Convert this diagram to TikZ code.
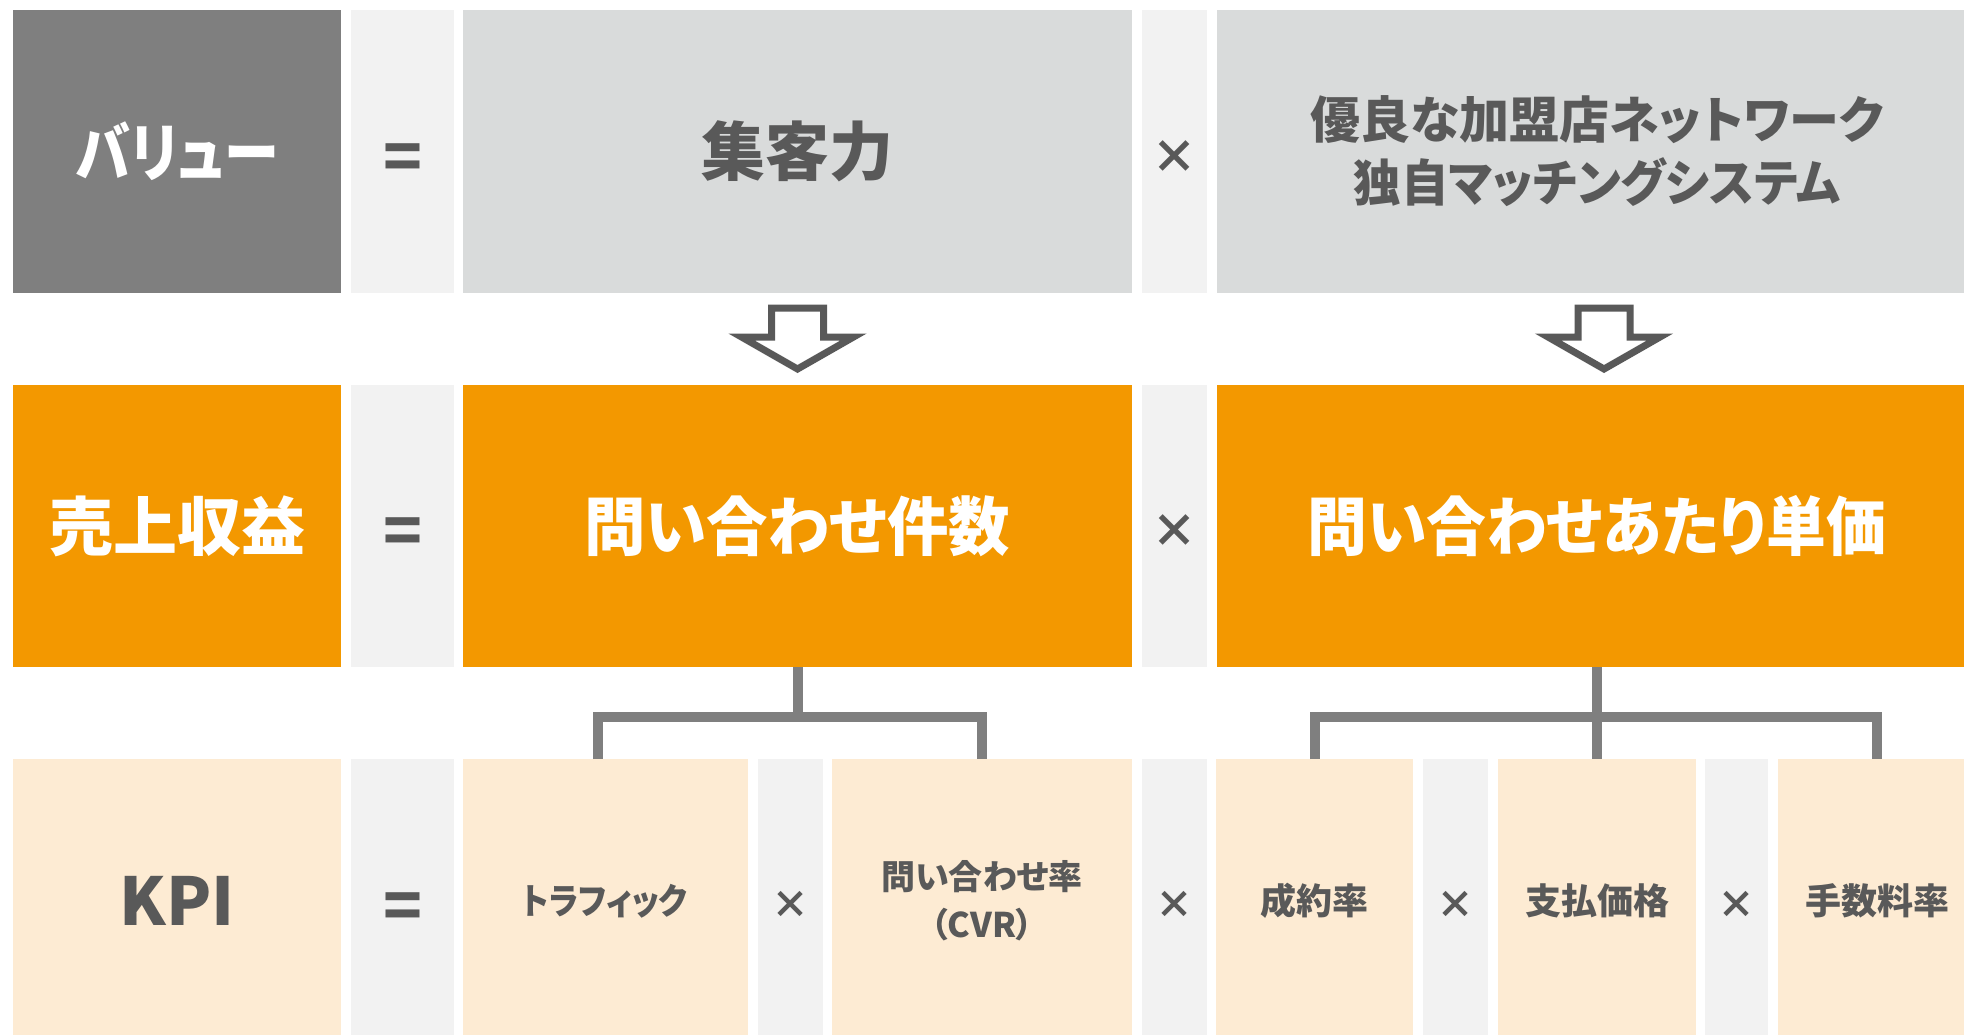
\documentclass[tikz,border=0pt]{standalone}
\usepackage{graphicx}
\usepackage{fontspec}
\setmainfont{Noto Sans CJK JP}[RawFeature=+palt]
\usetikzlibrary{calc}
\definecolor{valgray}{HTML}{7F7F7F}
\definecolor{lgray}{HTML}{D9DBDB}
\definecolor{opgray}{HTML}{F2F2F2}
\definecolor{orng}{HTML}{F39800}
\definecolor{pale}{HTML}{FDEBD3}
\definecolor{txt}{HTML}{595959}
\definecolor{conngray}{HTML}{7F7F7F}
\newcommand\fsz[1]{\fontsize{#1}{#1}\selectfont\bfseries}
\newcommand\narrow[2]{\scalebox{#1}[1]{#2}}
\begin{document}
\begin{tikzpicture}[x=1pt,y=-1pt,
  box/.style={inner sep=0pt, outer sep=0pt, anchor=center, text=txt},
  bigtxt/.style={font=\fsz{64}},
  smalltxt/.style={font=\fsz{36}},
  eqtxt/.style={inner sep=0pt, text=txt, font=\fsz{64}},
  xtxt/.style={inner sep=0pt, text=txt, font=\fsz{46}},
  xsmall/.style={inner sep=0pt, text=txt, font=\fsz{38}},
  hollow/.style={draw=txt, fill=white, line width=7pt, line join=miter},
  conn/.style={draw=conngray, line width=10pt, line join=miter}]
\useasboundingbox (0,0) rectangle (1964,1035);
\clip (0,0) rectangle (1964,1035);
\fill[white] (0,0) rectangle (1964,1035);
% row 1
\node[box, fill=valgray, minimum width=328pt, minimum height=283pt, text=white, bigtxt] (val) at (177,151.5) {\narrow{0.86}{バリュー}};
\node[box, fill=opgray, minimum width=103pt, minimum height=283pt] (eq1) at (402.5,151.5) {};
\node[box, fill=lgray, minimum width=669pt, minimum height=283pt, bigtxt] (attract) at (797.5,151.5) {集客力};
\node[box, fill=opgray, minimum width=65pt, minimum height=283pt] (x1) at (1174.5,151.5) {};
\node[box, fill=lgray, minimum width=760pt, minimum height=283pt, align=center, font=\fontsize{50}{63}\selectfont\bfseries] (network) at (1597,151.5) {優良な加盟店ネットワーク\\\narrow{0.95}{独自マッチングシステム}};
% row 2
\node[box, fill=orng, minimum width=328pt, minimum height=282pt, text=white, bigtxt] (rev) at (177,526) {売上収益};
\node[box, fill=opgray, minimum width=103pt, minimum height=282pt] (eq2) at (402.5,526) {};
\node[box, fill=orng, minimum width=669pt, minimum height=282pt, text=white, bigtxt] (inq) at (797.5,526) {\narrow{0.96}{問い合わせ件数}};
\node[box, fill=opgray, minimum width=65pt, minimum height=282pt] (x2) at (1174.5,526) {};
\node[box, fill=orng, minimum width=760pt, minimum height=282pt, text=white, bigtxt] (unit) at (1597,526) {\narrow{0.935}{問い合わせあたり単価}};
% row 3
\node[box, fill=pale, minimum width=328pt, minimum height=284pt, font=\fsz{66}] (kpi) at (177,901) {KPI};
\node[box, fill=opgray, minimum width=103pt, minimum height=284pt] (eq3) at (402.5,901) {};
\node[box, fill=pale, minimum width=285pt, minimum height=284pt, smalltxt] (traffic) at (605,901) {\narrow{0.89}{トラフィック}};
\node[box, fill=opgray, minimum width=65pt, minimum height=284pt] (x3) at (790,901) {};
\node[box, fill=pale, minimum width=300pt, minimum height=284pt, align=center, font=\fontsize{34}{48}\selectfont\bfseries] (cvr) at (982,901) {問い合わせ率\\（CVR）};
\node[box, fill=opgray, minimum width=65pt, minimum height=284pt] (x4) at (1174.5,901) {};
\node[box, fill=pale, minimum width=197pt, minimum height=284pt, smalltxt] (seiyaku) at (1314.5,901) {成約率};
\node[box, fill=opgray, minimum width=64.5pt, minimum height=284pt] (x5) at (1455.5,901) {};
\node[box, fill=pale, minimum width=197.5pt, minimum height=284pt, smalltxt] (shiharai) at (1597,901) {支払価格};
\node[box, fill=opgray, minimum width=63pt, minimum height=284pt] (x6) at (1736.5,901) {};
\node[box, fill=pale, minimum width=198pt, minimum height=284pt, smalltxt] (tesuryo) at (1877,901) {手数料率};
% operator signs
\node[eqtxt] (eq1t) at ($(eq1.center)+(0,11)$) {=};
\node[eqtxt] (eq2t) at ($(eq2.center)+(0,10)$) {=};
\node[eqtxt] (eq3t) at ($(eq3.center)+(0,10)$) {=};
\node[xtxt] (x1t) at ($(x1.center)+(0,6)$) {×};
\node[xtxt] (x2t) at ($(x2.center)+(0,5)$) {×};
\node[xsmall] (x3t) at ($(x3.center)+(0,4)$) {×};
\node[xsmall] (x4t) at ($(x4.center)+(0,4)$) {×};
\node[xsmall] (x5t) at ($(x5.center)+(0,4)$) {×};
\node[xsmall] (x6t) at ($(x6.center)+(0,4)$) {×};
% block arrows
\coordinate (a1) at ($(attract.south)!0.5!(inq.north)$);
\coordinate (a2) at ($(network.south)!0.5!(unit.north)+(7,0)$);
\foreach \c in {a1,a2}{
  \begin{scope}[shift={(\c)}]
    \draw[hollow] (-26,-31) -- (26,-31) -- (26,-2) -- (56,-2) -- (0,30) -- (-56,-2) -- (-26,-2) -- cycle;
  \end{scope}
}
% connectors
\draw[conn] (inq.south) -- ++(0,49.5) coordinate (j1);
\draw[conn] ([xshift=-7pt]traffic.north) |- (j1) -| (cvr.north);
\draw[conn] (unit.south) -- ++(0,49.5) coordinate (j2);
\draw[conn] (seiyaku.north) |- (j2) -| (tesuryo.north);
\draw[conn] (j2) -- (shiharai.north);
\end{tikzpicture}
\end{document}
